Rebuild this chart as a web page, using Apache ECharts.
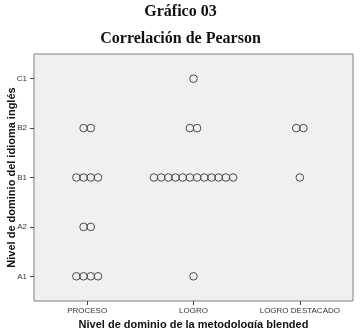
<!DOCTYPE html>
<html><head><meta charset="utf-8">
<script src="https://cdn.jsdelivr.net/npm/echarts@6/dist/echarts.min.js"></script>
<style>html,body{margin:0;padding:0;background:#fff}#c{width:361px;height:328px}</style>
</head><body><div id="c"></div>
<script>
const xCats = ['PROCESO', 'LOGRO', 'LOGRO DESTACADO'];
const yCats = ['A1', 'A2', 'B1', 'B2', 'C1'];
// number of cases per cell, ordered A1..C1
const procesoCounts = [4, 2, 4, 2, 0];
const logroCounts = [1, 0, 12, 2, 1];
const destacadoCounts = [0, 0, 1, 2, 0];

const countsByX = [procesoCounts, logroCounts, destacadoCounts];
const cells = [];
countsByX.forEach((arr, xi) => arr.forEach((n, yi) => { if (n > 0) cells.push([xi, yi, n]); }));

const chart = echarts.init(document.getElementById('c'), null, {renderer: 'canvas'});
chart.setOption({
  animation: false,
  backgroundColor: '#fff',
  title: [
    {text: 'Gráfico 03', left: 'center', top: -1,
     textStyle: {fontFamily: 'Liberation Serif', fontWeight: 'bold', fontSize: 16, color: '#111'}},
    {text: 'Correlación de Pearson', left: 'center', top: 26,
     textStyle: {fontFamily: 'Liberation Serif', fontWeight: 'bold', fontSize: 16, color: '#111'}}
  ],
  grid: {left: 34, right: 8, top: 54, bottom: 27, show: true, containLabel: false, outerBoundsMode: 'none',
         backgroundColor: '#f0f0f0', borderColor: '#808080', borderWidth: 1},
  xAxis: {
    type: 'category', data: xCats, boundaryGap: true,
    name: 'Nivel de dominio de la metodología blended', nameLocation: 'middle', nameGap: 18,
    nameTextStyle: {fontFamily: 'Liberation Sans', fontWeight: 'bold', fontSize: 11, color: '#111'},
    axisLine: {show: false},
    axisTick: {show: true, alignWithLabel: true, length: 4, lineStyle: {color: '#444'}},
    axisLabel: {fontFamily: 'Liberation Sans', fontSize: 8, color: '#333', margin: 6, interval: 0, hideOverlap: false},
    splitLine: {show: false}
  },
  yAxis: {
    type: 'category', data: yCats, boundaryGap: true,
    name: 'Nivel de dominio del idioma inglés', nameLocation: 'middle', nameGap: 17, nameRotate: 90,
    nameMoveOverlap: false,
    nameTextStyle: {fontFamily: 'Liberation Sans', fontWeight: 'bold', fontSize: 11, color: '#111'},
    axisLine: {show: false},
    axisTick: {show: true, alignWithLabel: true, length: 4, lineStyle: {color: '#444'}},
    axisLabel: {fontFamily: 'Liberation Sans', fontSize: 8, color: '#333', margin: 7, interval: 0},
    splitLine: {show: false}
  },
  series: [{
    type: 'custom',
    data: cells,
    renderItem: function (params, api) {
      const c = api.coord([api.value(0), api.value(1)]);
      const n = api.value(2);
      const step = 7.2;
      const children = [];
      for (let i = 0; i < n; i++) {
        children.push({
          type: 'circle',
          shape: {cx: c[0] + (i - (n - 1) / 2) * step, cy: c[1], r: 3.8},
          style: {fill: 'none', stroke: '#4a4a4a', lineWidth: 1}
        });
      }
      return {type: 'group', children: children};
    }
  }]
});
</script></body></html>
